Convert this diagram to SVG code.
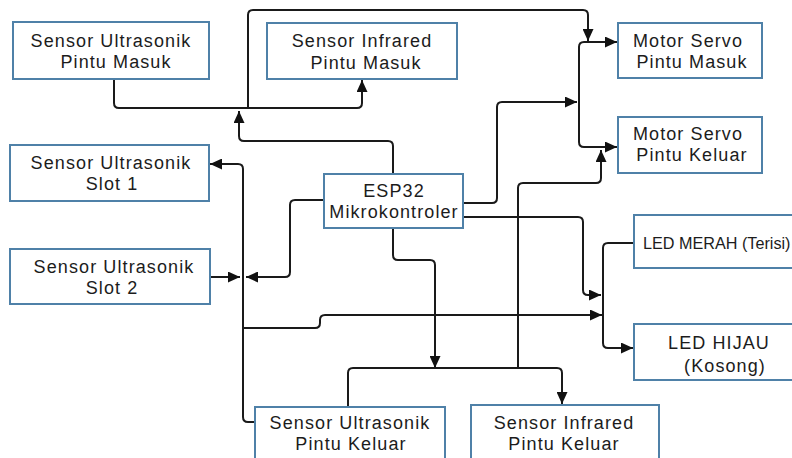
<svg xmlns="http://www.w3.org/2000/svg" width="792" height="458" viewBox="0 0 792 458">
<style>
.box{fill:#fff;stroke:#4f81a8;stroke-width:2}
.t{font-family:"Liberation Sans",Arial,sans-serif;font-size:18px;letter-spacing:1.1px;fill:#1c1c1c;text-anchor:middle}
.ts{text-anchor:start;letter-spacing:0;font-size:16.2px}
.c{fill:none;stroke:#1a1a1a;stroke-width:2}
</style>
<defs>
<marker id="ah" markerUnits="userSpaceOnUse" markerWidth="12" markerHeight="11" refX="12" refY="5.5" orient="auto">
<path d="M0,0 L12,5.5 L0,11 z" fill="#111"/>
</marker>
</defs>
<rect width="792" height="458" fill="#fff"/>
<g id="connectors">
<path class="c" d="M114 79 V103 Q114 108 119 108 H357 Q362 108 362 103 V80" marker-end="url(#ah)"/>
<path class="c" d="M248 108 V15 Q248 10 253 10 H583 Q588 10 588 15 V41" marker-end="url(#ah)"/>
<path class="c" d="M393 174 V146 Q393 141 388 141 H244 Q239 141 239 136 V111" marker-end="url(#ah)"/>
<path class="c" d="M579 142 V47 Q579 42 584 42 H617" marker-end="url(#ah)"/>
<path class="c" d="M579 100 V142 Q579 147 584 147 H617" marker-end="url(#ah)"/>
<path class="c" d="M463 203 H492 Q497 203 497 198 V107 Q497 102 502 102 H577" marker-end="url(#ah)"/>
<path class="c" d="M463 217 H578 Q583 217 583 222 V290 Q583 295 588 295 H601" marker-end="url(#ah)"/>
<path class="c" d="M518 368 V188 Q518 183 523 183 H596 Q601 183 601 178 V150" marker-end="url(#ah)"/>
<path class="c" d="M348 407 V373 Q348 368 353 368 H557 Q562 368 562 373 V404" marker-end="url(#ah)"/>
<path class="c" d="M393 228 V255 Q393 260 398 260 H430 Q435 260 435 265 V368" marker-end="url(#ah)"/>
<path class="c" d="M255 422 H248 Q243 422 243 417 V169 Q243 164 238 164 H210" marker-end="url(#ah)"/>
<path class="c" d="M210 277 H240" marker-end="url(#ah)"/>
<path class="c" d="M324 200 H295 Q290 200 290 205 V272 Q290 277 285 277 H246" marker-end="url(#ah)"/>
<path class="c" d="M243 328 H315 Q320 328 320 323 V320 Q320 315 325 315 H602" marker-end="url(#ah)"/>
<path class="c" d="M634 243 H608 Q603 243 603 248 V343 Q603 348 608 348 H633" marker-end="url(#ah)"/>
</g>
<g id="us-masuk"><rect class="box" x="13" y="22" width="196" height="57"/><text class="t"><tspan x="111" y="47">Sensor Ultrasonik</tspan><tspan x="116" y="68">Pintu Masuk</tspan></text></g>
<g id="ir-masuk"><rect class="box" x="267" y="23" width="190" height="56"/><text class="t"><tspan x="362" y="47">Sensor Infrared</tspan><tspan x="366" y="69">Pintu Masuk</tspan></text></g>
<g id="ms-masuk"><rect class="box" x="618" y="23" width="144" height="55"/><text class="t"><tspan x="688" y="47">Motor Servo</tspan><tspan x="692" y="68">Pintu Masuk</tspan></text></g>
<g id="ms-keluar"><rect class="box" x="618" y="117" width="144" height="56"/><text class="t"><tspan x="688" y="140">Motor Servo</tspan><tspan x="692" y="161">Pintu Keluar</tspan></text></g>
<g id="slot1"><rect class="box" x="10" y="145" width="199" height="56"/><text class="t"><tspan x="111" y="169">Sensor Ultrasonik</tspan><tspan x="112" y="190">Slot 1</tspan></text></g>
<g id="slot2"><rect class="box" x="10" y="249" width="200" height="55"/><text class="t"><tspan x="114" y="273">Sensor Ultrasonik</tspan><tspan x="112" y="294">Slot 2</tspan></text></g>
<g id="esp32"><rect class="box" x="324" y="174" width="139" height="54"/><text class="t"><tspan x="394" y="197">ESP32</tspan><tspan x="394" y="218">Mikrokontroler</tspan></text></g>
<g id="led-merah"><rect class="box" x="634" y="215" width="170" height="53"/><text class="t ts" x="643" y="249">LED MERAH (Terisi)</text></g>
<g id="led-hijau"><rect class="box" x="634" y="324" width="170" height="56"/><text class="t"><tspan x="719" y="349">LED HIJAU</tspan><tspan x="725" y="372">(Kosong)</tspan></text></g>
<g id="us-keluar"><rect class="box" x="255" y="407" width="190" height="60"/><text class="t"><tspan x="350" y="429">Sensor Ultrasonik</tspan><tspan x="351" y="450">Pintu Keluar</tspan></text></g>
<g id="ir-keluar"><rect class="box" x="471" y="405" width="188" height="62"/><text class="t"><tspan x="564" y="429">Sensor Infrared</tspan><tspan x="564" y="450">Pintu Keluar</tspan></text></g>
</svg>
